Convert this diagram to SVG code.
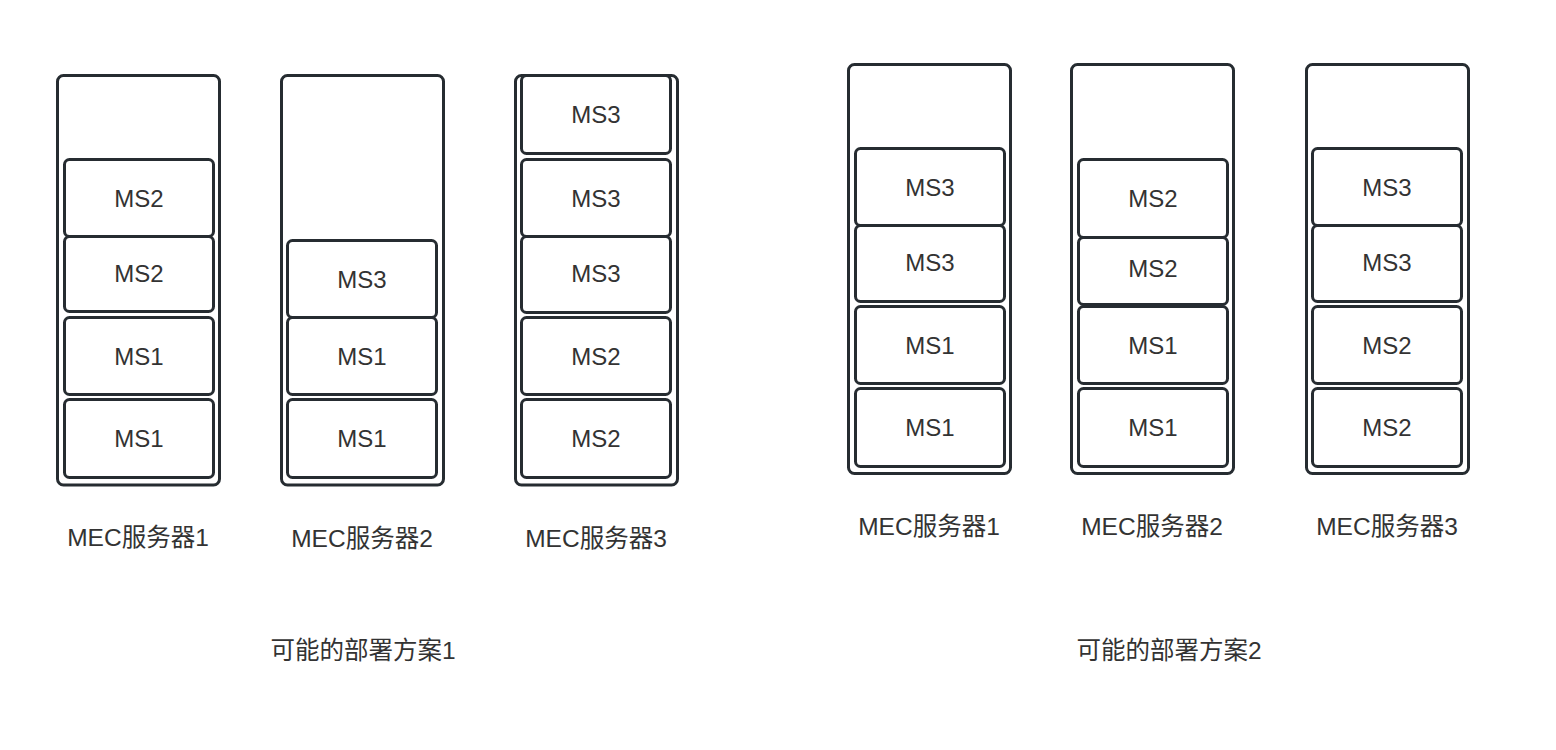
<svg xmlns="http://www.w3.org/2000/svg" width="1556" height="750" viewBox="0 0 1556 750">
<style>
.srv{fill:#fff;stroke:#262c31;stroke-width:3}
.ms{fill:#fff;stroke:#262c31;stroke-width:3}
text{font-family:"Liberation Sans","Noto Sans CJK SC",sans-serif;fill:#333;text-anchor:middle;dominant-baseline:central}
.t{font-size:24px}
.l{font-size:24.5px}
.h{font-size:24.5px}
</style>
<rect width="1556" height="750" fill="#fff"/>
<g id="plan1">
<g id="p1s1">
<rect class="srv" x="57.5" y="75.5" width="162" height="409.5" rx="6"/>
<rect class="ms" x="64.5" y="159.5" width="149" height="77" rx="5"/><text class="t" x="139" y="198">MS2</text>
<rect class="ms" x="64.5" y="236.5" width="149" height="75" rx="5"/><text class="t" x="139" y="273">MS2</text>
<rect class="ms" x="64.5" y="317.5" width="149" height="77" rx="5"/><text class="t" x="139" y="356">MS1</text>
<rect class="ms" x="64.5" y="399.5" width="149" height="78" rx="5"/><text class="t" x="139" y="438">MS1</text>
<text class="l" x="138" y="537">MEC服务器1</text>
</g>
<g id="p1s2">
<rect class="srv" x="281.5" y="75.5" width="162" height="409.5" rx="6"/>
<rect class="ms" x="287.5" y="240.5" width="149" height="77" rx="5"/><text class="t" x="362" y="279">MS3</text>
<rect class="ms" x="287.5" y="317.5" width="149" height="77" rx="5"/><text class="t" x="362" y="356">MS1</text>
<rect class="ms" x="287.5" y="399.5" width="149" height="78" rx="5"/><text class="t" x="362" y="438">MS1</text>
<text class="l" x="362" y="538">MEC服务器2</text>
</g>
<g id="p1s3">
<rect class="srv" x="515.5" y="75.5" width="162" height="409.5" rx="6"/>
<rect class="ms" x="521.5" y="75.5" width="149" height="78" rx="5"/><text class="t" x="596" y="114">MS3</text>
<rect class="ms" x="521.5" y="159.5" width="149" height="77" rx="5"/><text class="t" x="596" y="198">MS3</text>
<rect class="ms" x="521.5" y="236.5" width="149" height="76" rx="5"/><text class="t" x="596" y="273">MS3</text>
<rect class="ms" x="521.5" y="317.5" width="149" height="77" rx="5"/><text class="t" x="596" y="356">MS2</text>
<rect class="ms" x="521.5" y="399.5" width="149" height="78" rx="5"/><text class="t" x="596" y="438">MS2</text>
<text class="l" x="596" y="538">MEC服务器3</text>
</g>
<text id="title1" class="h" x="363" y="650">可能的部署方案1</text>
</g>
<g id="plan2">
<g id="p2s1">
<rect class="srv" x="848.5" y="64.5" width="162" height="409" rx="6"/>
<rect class="ms" x="855.5" y="148.5" width="149" height="77" rx="5"/><text class="t" x="930" y="187">MS3</text>
<rect class="ms" x="855.5" y="225.5" width="149" height="76" rx="5"/><text class="t" x="930" y="262">MS3</text>
<rect class="ms" x="855.5" y="306.5" width="149" height="77" rx="5"/><text class="t" x="930" y="345">MS1</text>
<rect class="ms" x="855.5" y="388.5" width="149" height="78" rx="5"/><text class="t" x="930" y="427">MS1</text>
<text class="l" x="929" y="526">MEC服务器1</text>
</g>
<g id="p2s2">
<rect class="srv" x="1071.5" y="64.5" width="162" height="409" rx="6"/>
<rect class="ms" x="1078.5" y="159.5" width="149" height="78" rx="5"/><text class="t" x="1153" y="198">MS2</text>
<rect class="ms" x="1078.5" y="237.5" width="149" height="67" rx="5"/><text class="t" x="1153" y="268">MS2</text>
<rect class="ms" x="1078.5" y="306.5" width="149" height="77" rx="5"/><text class="t" x="1153" y="345">MS1</text>
<rect class="ms" x="1078.5" y="388.5" width="149" height="78" rx="5"/><text class="t" x="1153" y="427">MS1</text>
<text class="l" x="1152" y="526">MEC服务器2</text>
</g>
<g id="p2s3">
<rect class="srv" x="1306.5" y="64.5" width="162" height="409" rx="6"/>
<rect class="ms" x="1312.5" y="148.5" width="149" height="77" rx="5"/><text class="t" x="1387" y="187">MS3</text>
<rect class="ms" x="1312.5" y="225.5" width="149" height="76" rx="5"/><text class="t" x="1387" y="262">MS3</text>
<rect class="ms" x="1312.5" y="306.5" width="149" height="77" rx="5"/><text class="t" x="1387" y="345">MS2</text>
<rect class="ms" x="1312.5" y="388.5" width="149" height="78" rx="5"/><text class="t" x="1387" y="427">MS2</text>
<text class="l" x="1387" y="526">MEC服务器3</text>
</g>
<text id="title2" class="h" x="1169" y="650">可能的部署方案2</text>
</g>
<g id="connectors"></g>
</svg>
